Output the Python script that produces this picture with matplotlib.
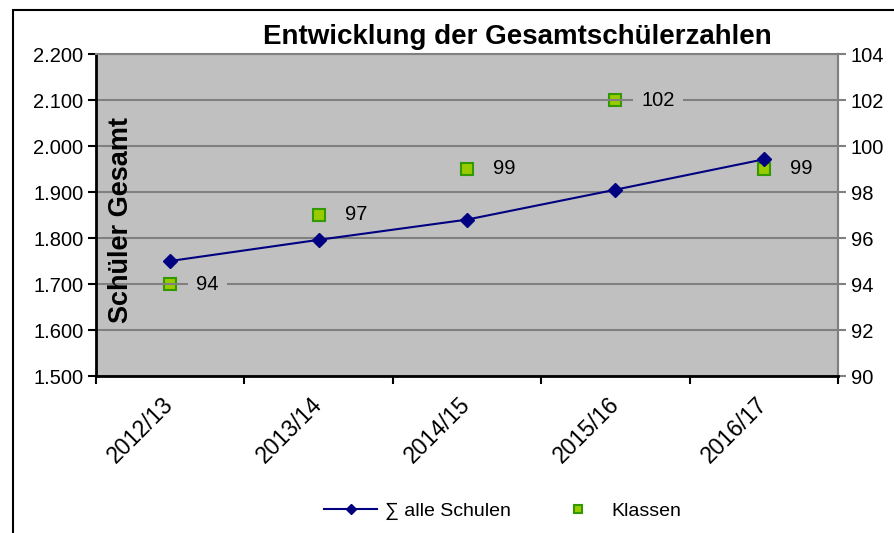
import matplotlib
matplotlib.use("Agg")
import matplotlib.pyplot as plt
from matplotlib.patches import Rectangle
from matplotlib.lines import Line2D

plt.rcParams['font.family'] = ['Liberation Sans', 'DejaVu Sans']

# data
years = ["2012/13", "2013/14", "2014/15", "2015/16", "2016/17"]
schueler = [1750, 1796, 1840, 1905, 1971]
klassen = [94, 97, 99, 102, 99]

fig = plt.figure(figsize=(8.94, 5.33), dpi=100)
ax = fig.add_axes([96 / 894, 1 - 376 / 533, 742 / 894, 322 / 533])
ax.set_facecolor('#c0c0c0')
x = list(range(len(years)))

# right axis: classes (created first so the left axis can sit above it)
ax2 = ax.twinx()
ax2.set_ylim(90, 104)
ax2.set_yticks(range(90, 105, 2))
ax2.tick_params(axis='y', length=6, width=1.5, color='#808080', labelsize=14.5, pad=3)
for side in ['left', 'bottom', 'top']:
    ax2.spines[side].set_visible(False)
ax2.spines['right'].set_color('#808080')
ax2.spines['right'].set_linewidth(1.5)
ax2.plot(x, klassen, linestyle='none', marker='s', markersize=8,
         markerfacecolor='#99cc00', markeredgecolor='#339900', markeredgewidth=1.5, zorder=4)

# left axis drawn on top, transparent background
ax.set_zorder(ax2.get_zorder() + 1)
ax.patch.set_visible(False)
ax2.patch.set_visible(True)
ax2.patch.set_facecolor('#c0c0c0')

ax.set_ylim(1500, 2200)
ax.set_yticks(range(1500, 2201, 100))
ax.set_yticklabels([f"{v:,.0f}".replace(",", ".") for v in range(1500, 2201, 100)], fontsize=14.5)
ax.yaxis.grid(True, color='#808080', linewidth=1.5, zorder=0)
ax.set_axisbelow(True)
ax.plot(x, schueler, color='#000080', linewidth=1.5, marker='D', markersize=7,
        markerfacecolor='#000080', markeredgecolor='#000080', zorder=3)

# value labels for classes (bbox hides the gridline, sits under the line)
for xi, k in zip(x, klassen):
    ax.annotate(str(k), (xi, k), xycoords=ax2.transData, xytext=(26, 0),
                textcoords='offset pixels', ha='left', va='center', fontsize=14.5, zorder=2,
                bbox=dict(boxstyle='square,pad=0.4', fc='#c0c0c0', ec='none'))

# category axis
ax.set_xlim(-0.5, len(years) - 0.5)
ax.set_xticks([i - 0.5 for i in range(len(years) + 1)])
ax.set_xticklabels([])
ax.set_xticks(x, minor=True)
ax.set_xticklabels(years, minor=True, rotation=45, ha='right', va='center',
                   rotation_mode='anchor', fontsize=16.5)
ax.tick_params(axis='x', which='minor', length=0, pad=18)
ax.tick_params(axis='x', which='major', length=6, width=1.5, color='black')
ax.tick_params(axis='y', length=6, width=1.5, color='black', pad=3)

for side in ['left', 'bottom']:
    ax.spines[side].set_color('black')
    ax.spines[side].set_linewidth(2)
for side in ['top', 'right']:
    ax.spines[side].set_color('#808080')
    ax.spines[side].set_linewidth(1.5)

# titles
fig.text(517 / 894, 1 - 37 / 533, "Entwicklung der Gesamtschülerzahlen",
         ha='center', va='center', fontsize=20, fontweight='bold')
fig.text(121 / 894, 1 - 220 / 533, "Schüler Gesamt", rotation=90,
         ha='center', va='center', fontsize=19.5, fontweight='bold')

# legend
handles = [
    Line2D([], [], color='#000080', linewidth=1.5, marker='D', markersize=5),
    Line2D([], [], linestyle='none', marker='s', markersize=6,
           markerfacecolor='#99cc00', markeredgecolor='#339900', markeredgewidth=1.5),
]
fig.legend(handles, ["∑ alle Schulen", "Klassen"], ncol=2, loc='center',
           bbox_to_anchor=(503 / 894, 1 - 511 / 533), frameon=False, fontsize=14,
           handlelength=2.7, handletextpad=0.4, columnspacing=2.1)

# outer frame
fig.patches.append(Rectangle((13 / 894, -0.1), 1.0, 1.1 - 10 / 533, transform=fig.transFigure,
                             fill=False, edgecolor='black', linewidth=1.5, clip_on=False))

fig.savefig("out.png", dpi=100)
